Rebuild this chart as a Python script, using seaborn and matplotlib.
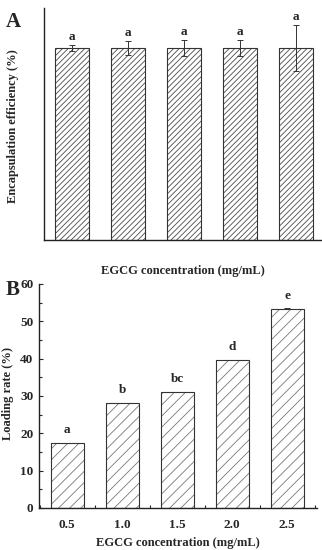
import numpy as np
import matplotlib
matplotlib.use("Agg")
import matplotlib.pyplot as plt
import seaborn as sns
from matplotlib.ticker import MultipleLocator

sns.set_style("ticks")
plt.rcParams['font.family'] = ['Liberation Serif', 'DejaVu Serif']
plt.rcParams['font.weight'] = 'bold'
plt.rcParams['hatch.linewidth'] = 0.6

conc = [0.5, 1.0, 1.5, 2.0, 2.5]
conc_labels = ["0.5", "1.0", "1.5", "2.0", "2.5"]

# panel A: encapsulation efficiency (no numeric scale shown)
ee_vals = [82.8, 82.8, 82.8, 82.8, 82.8]
ee_err = [1.3, 3.0, 3.4, 3.4, 9.9]
ee_sig = ["a", "a", "a", "a", "a"]

# panel B: loading rate
lr_vals = [17.4, 28.2, 31.2, 39.7, 53.4]
lr_err = [0.0, 0.0, 0.0, 0.0, 0.1]
lr_sig = ["a", "b", "bc", "d", "e"]

fig = plt.figure(figsize=(3.22, 5.5), dpi=100)
W, H = 322, 550
axA = fig.add_axes([44 / W, (H - 240) / H, (W - 44) / W, 232 / H])
axB = fig.add_axes([39 / W, (H - 508) / H, (317 - 39) / W, 224 / H])

# ---- panel A: hatch layer, then outline
sns.barplot(x=conc_labels, y=ee_vals, ax=axA, color='white', edgecolor='#4a4a4a',
            linewidth=0, width=0.61, hatch='//////', errorbar=None)
sns.barplot(x=conc_labels, y=ee_vals, ax=axA, fill=False, edgecolor='#333333',
            linewidth=0.8, width=0.61, errorbar=None)
axA.errorbar(np.arange(len(conc)), ee_vals, yerr=ee_err, fmt='none',
             ecolor='#333333', elinewidth=0.7, capsize=2.5, capthick=0.7)
for i, (v, e, s) in enumerate(zip(ee_vals, ee_err, ee_sig)):
    axA.text(i, v + e + 1.0, s, ha='center', va='bottom', fontsize=9.5, fontweight='bold')
axA.set_ylim(0, 100)
axA.set_xlim(-0.5, 4.47)
axA.set_xticks([])
axA.set_yticks([])
axA.spines['top'].set_visible(False)
axA.spines['right'].set_visible(False)
axA.set_ylabel('Encapsulation efficiency (%)', fontsize=9, fontweight='bold')
axA.yaxis.set_label_coords(-25 / 278, 0.49)
axA.set_xlabel('EGCG concentration (mg/mL)', fontsize=9, fontweight='bold', labelpad=18)
fig.text(6 / W, 1 - 22 / H, 'A', fontsize=15, fontweight='bold', va='center')

# ---- panel B: lighter hatch layer, then outline
sns.barplot(x=conc, y=lr_vals, ax=axB, color='white', edgecolor='#777777',
            linewidth=0, width=0.6, hatch='///', native_scale=True, errorbar=None)
sns.barplot(x=conc, y=lr_vals, ax=axB, fill=False, edgecolor='#333333',
            linewidth=0.8, width=0.6, native_scale=True, errorbar=None)
axB.errorbar(conc, lr_vals, yerr=lr_err, fmt='none', ecolor='#333333',
             elinewidth=0.7, capsize=2.5, capthick=0.7)
for x, v, s in zip(conc, lr_vals, lr_sig):
    axB.text(x, v + 1.8, s, ha='center', va='bottom', fontsize=9.5, fontweight='bold')
axB.set_ylim(0, 60)
axB.set_xlim(0.245, 2.77)
axB.set_xticks(conc)
axB.set_xticklabels(conc_labels)
axB.xaxis.set_minor_locator(MultipleLocator(0.25))
axB.yaxis.set_major_locator(MultipleLocator(10))
axB.yaxis.set_minor_locator(MultipleLocator(5))
axB.tick_params(which='both', direction='in', labelsize=9.5, width=0.8)
axB.tick_params(which='major', length=3)
axB.tick_params(which='minor', length=2)
axB.tick_params(axis='x', which='major', pad=8)
axB.tick_params(axis='y', which='major', pad=4)
for lab in axB.get_xticklabels() + axB.get_yticklabels():
    lab.set_fontweight('bold')
axB.spines['top'].set_visible(False)
axB.spines['right'].set_visible(False)
axB.set_ylabel('Loading rate (%)', fontsize=9, fontweight='bold')
axB.yaxis.set_label_coords(-25 / 278, 0.51)
axB.set_xlabel('EGCG concentration (mg/mL)', fontsize=9, fontweight='bold', labelpad=4)
fig.text(6 / W, 1 - 290 / H, 'B', fontsize=15, fontweight='bold', va='center')

for ax in (axA, axB):
    for sp in ('left', 'bottom'):
        ax.spines[sp].set_linewidth(1.0)
        ax.spines[sp].set_color('#222222')

fig.savefig('out.png', dpi=100)
